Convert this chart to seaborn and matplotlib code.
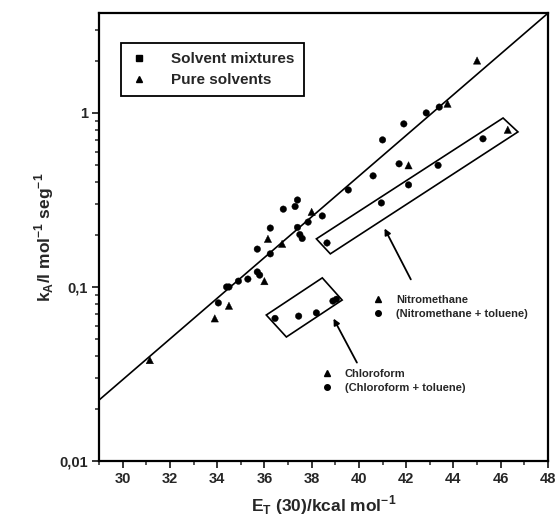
import numpy as np
import pandas as pd
import matplotlib
matplotlib.use('Agg')
import matplotlib.pyplot as plt
from matplotlib.lines import Line2D
from matplotlib.patches import Polygon
from matplotlib.ticker import FixedLocator, FuncFormatter, LogLocator, MultipleLocator
import seaborn as sns

# solvent mixtures
mix_E = [34.05, 34.4, 34.5, 34.9, 35.3, 35.7, 35.8, 35.7, 36.25, 36.25, 36.8, 37.3, 37.4,
         37.4, 37.5, 37.6, 37.85, 38.45, 39.55, 40.6, 41.0, 41.7, 41.9, 42.85, 43.4]
mix_k = [0.081, 0.100, 0.100, 0.108, 0.111, 0.122, 0.117, 0.165, 0.155, 0.218, 0.280, 0.290, 0.316,
         0.220, 0.200, 0.190, 0.236, 0.256, 0.361, 0.435, 0.700, 0.510, 0.865, 1.00, 1.08]
# nitromethane + toluene
nitro_tol_E = [38.65, 40.95, 42.1, 43.35, 45.25]
nitro_tol_k = [0.179, 0.304, 0.386, 0.500, 0.710]
# chloroform + toluene
chloro_tol_E = [36.45, 37.45, 38.2, 38.9, 39.05]
chloro_tol_k = [0.066, 0.068, 0.071, 0.083, 0.085]
# pure solvents (triangles)
pure_E = [31.15, 33.9, 34.5, 36.0, 36.15, 36.75, 38.0, 42.1, 43.75, 45.0, 46.3]
pure_k = [0.038, 0.066, 0.078, 0.108, 0.189, 0.177, 0.270, 0.500, 1.13, 2.00, 0.800]

# fitted line: log10(k) = a + b * E
fit_a = -5.043
fit_b = 0.117

# boxes around the nitromethane / chloroform series (E, k corners)
nitro_box_E = [38.2, 38.79, 46.73, 46.1]
nitro_box_k = [0.189, 0.155, 0.778, 0.935]
chloro_box_E = [36.08, 36.93, 39.29, 38.45]
chloro_box_k = [0.069, 0.0516, 0.0841, 0.1128]

df = pd.DataFrame({
    'E': mix_E + nitro_tol_E + chloro_tol_E + pure_E,
    'k': mix_k + nitro_tol_k + chloro_tol_k + pure_k,
    'kind': ['Solvent mixtures'] * (len(mix_E) + len(nitro_tol_E) + len(chloro_tol_E))
            + ['Pure solvents'] * len(pure_E),
})

sns.set_style('ticks')
plt.rcParams['font.family'] = ['Liberation Sans', 'DejaVu Sans']

fig = plt.figure(figsize=(5.58, 5.27), dpi=100)
ax = fig.add_axes([0.1774, 0.1252, 0.8046, 0.8501])

xs = np.linspace(29, 48, 50)
ax.plot(xs, 10 ** (fit_a + fit_b * xs), color='black', lw=1.2, zorder=2)

sns.scatterplot(data=df, x='E', y='k', style='kind',
                markers={'Solvent mixtures': 'o', 'Pure solvents': '^'},
                size='kind', sizes={'Solvent mixtures': 22, 'Pure solvents': 28},
                color='black', edgecolor='black', linewidth=0.3, legend=False, ax=ax, zorder=3)

ax.set_yscale('log')
ax.set_xlim(29, 48)
ax.set_ylim(0.01, 3.75)

ax.add_patch(Polygon(list(zip(nitro_box_E, nitro_box_k)), closed=True, fill=False, ec='black', lw=1.2))
ax.add_patch(Polygon(list(zip(chloro_box_E, chloro_box_k)), closed=True, fill=False, ec='black', lw=1.2))

ax.annotate('', xy=(41.03, 0.224), xytext=(42.25, 0.107),
            arrowprops=dict(arrowstyle='-|>', color='black', lw=1.3, mutation_scale=9))
ax.annotate('', xy=(38.87, 0.068), xytext=(39.97, 0.0356),
            arrowprops=dict(arrowstyle='-|>', color='black', lw=1.3, mutation_scale=9))

# ticks
ax.xaxis.set_major_locator(MultipleLocator(2))
ax.xaxis.set_minor_locator(MultipleLocator(1))
ax.yaxis.set_major_locator(FixedLocator([0.01, 0.1, 1]))
ax.yaxis.set_minor_locator(LogLocator(base=10, subs=np.arange(2, 10)))
ax.yaxis.set_major_formatter(FuncFormatter(lambda v, p: {0.01: '0,01', 0.1: '0,1', 1: '1'}.get(round(v, 2), '')))
ax.yaxis.set_minor_formatter(FuncFormatter(lambda v, p: ''))
ax.tick_params(which='major', direction='out', length=5, width=1.3, labelsize=10.5, pad=3)
ax.tick_params(which='minor', direction='out', length=3, width=1.1)
for lab in ax.get_xticklabels() + ax.get_yticklabels():
    lab.set_fontweight('bold')
for s in ax.spines.values():
    s.set_linewidth(1.6)
    s.set_color('black')

ax.set_xlabel(r'E$_\mathregular{T}$ (30)/kcal mol$^\mathregular{-1}$', fontsize=12.5,
              fontweight='bold', labelpad=5)
ax.set_ylabel(r'k$_\mathregular{A}$/l mol$^\mathregular{ -1}$ seg$^\mathregular{-1}$', fontsize=12.5,
              fontweight='bold', labelpad=2)

# main legend
handles = [Line2D([], [], ls='', marker='s', color='black', ms=4),
           Line2D([], [], ls='', marker='^', color='black', ms=5)]
leg = ax.legend(handles, ['Solvent mixtures', 'Pure solvents'], loc='upper left',
                bbox_to_anchor=(0.049, 0.933), borderaxespad=0, fancybox=False,
                edgecolor='black', framealpha=1, prop={'size': 11, 'weight': 'bold'},
                handletextpad=1.5, borderpad=0.6, labelspacing=0.45, handlelength=1.2)
leg.get_frame().set_linewidth(1.3)
ax.add_artist(leg)

# series labels
h2 = [Line2D([], [], ls='', marker='^', color='black', ms=4.5),
      Line2D([], [], ls='', marker='o', color='black', ms=4)]
leg2 = ax.legend(h2, ['Nitromethane', '(Nitromethane + toluene)'], loc='upper left',
                 bbox_to_anchor=(0.60, 0.38), borderaxespad=0, frameon=False,
                 prop={'size': 8, 'weight': 'bold'}, handletextpad=1.1, labelspacing=0.35,
                 handlelength=1.0)
ax.add_artist(leg2)
leg3 = ax.legend(h2, ['Chloroform', '(Chloroform + toluene)'], loc='upper left',
                 bbox_to_anchor=(0.485, 0.215), borderaxespad=0, frameon=False,
                 prop={'size': 8, 'weight': 'bold'}, handletextpad=1.1, labelspacing=0.35,
                 handlelength=1.0)

fig.savefig('out.png', dpi=100)
